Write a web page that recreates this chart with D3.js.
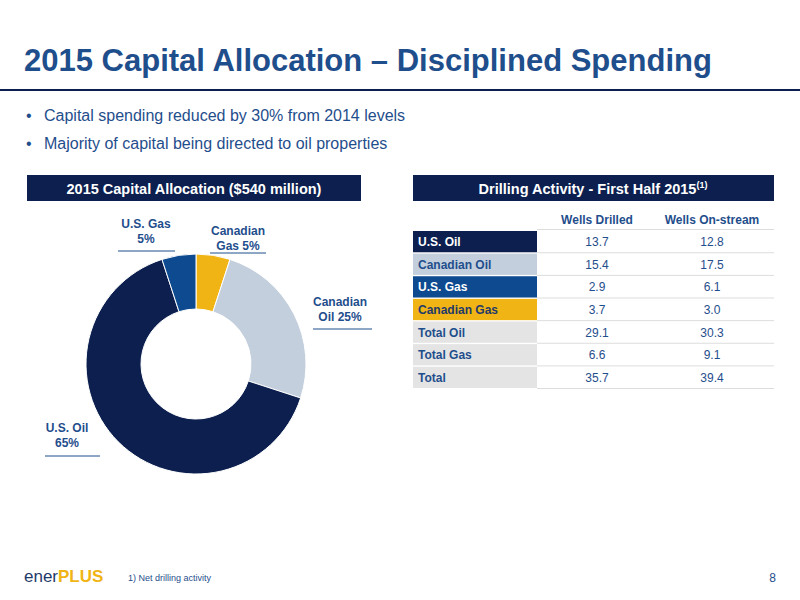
<!DOCTYPE html><html><head><meta charset="utf-8"><script src="https://cdn.jsdelivr.net/npm/d3@7"></script>
<style>body{margin:0;background:#fff}text{font-family:"Liberation Sans",Arial,sans-serif}</style></head><body><svg id="c" width="800" height="600"></svg>
<script>
const slices=["Canadian Gas","Canadian Oil","U.S. Oil","U.S. Gas"];
const shares=[5,25,65,5];
const sliceColors=["#f0b414","#c3cfdc","#0c1f4f","#0d4a8f"];
const rows=["U.S. Oil","Canadian Oil","U.S. Gas","Canadian Gas","Total Oil","Total Gas","Total"];
const drilled=["13.7","15.4","2.9","3.7","29.1","6.6","35.7"];
const onstream=["12.8","17.5","6.1","3.0","30.3","9.1","39.4"];
const rowFill=["#0c1f4f","#c3cfdc","#0d4a8f","#f0b414","#e4e4e4","#e4e4e4","#e4e4e4"];
const rowText=["#fff","#1f4e8c","#fff","#1f3a6a","#1f4e8c","#1f4e8c","#1f4e8c"];
const svg=d3.select("#c");
const blue="#1f4e8c";
svg.append("text").attr("x",24).attr("y",71).attr("font-size",31).attr("font-weight","bold").attr("fill",blue).text("2015 Capital Allocation – Disciplined Spending");
svg.append("line").attr("x1",0).attr("x2",800).attr("y1",90).attr("y2",90).attr("stroke","#0c1f4f").attr("stroke-width",2);
["Capital spending reduced by 30% from 2014 levels","Majority of capital being directed to oil properties"].forEach((t,i)=>{
 svg.append("text").attr("x",26).attr("y",121+i*28).attr("font-size",16).attr("fill",blue).text("•");
 svg.append("text").attr("x",44).attr("y",121+i*28).attr("font-size",16).attr("fill",blue).text(t);});
svg.append("rect").attr("x",27).attr("y",175).attr("width",334).attr("height",26).attr("fill","#0c1f4f");
svg.append("text").attr("x",194).attr("y",194).attr("text-anchor","middle").attr("font-size",14.5).attr("font-weight","bold").attr("fill","#fff").text("2015 Capital Allocation ($540 million)");
svg.append("rect").attr("x",413).attr("y",175).attr("width",361).attr("height",26).attr("fill","#0c1f4f");
const ht=svg.append("text").attr("x",593).attr("y",194).attr("text-anchor","middle").attr("font-size",14.5).attr("font-weight","bold").attr("fill","#fff");
ht.append("tspan").text("Drilling Activity - First Half 2015");ht.append("tspan").attr("font-size",9).attr("dy",-6).text("(1)");
const pie=d3.pie().sort(null)(shares);
const arc=d3.arc().innerRadius(55).outerRadius(110);
svg.append("g").attr("transform","translate(196,364)").selectAll("path").data(pie).join("path").attr("d",arc).attr("fill",(d,i)=>sliceColors[i]).attr("stroke","#fff").attr("stroke-width",1);
const labs=[[238,["Canadian","Gas 5%"],210,266,253],[340,["Canadian","Oil 25%"],313,372,329],[67,["U.S. Oil","65%"],45,100,456],[146,["U.S. Gas","5%"],118,175,251]];
const ly=[235,306,432,228];
labs.forEach((l,i)=>{l[1].forEach((t,j)=>svg.append("text").attr("x",l[0]).attr("y",ly[i]+j*15).attr("text-anchor","middle").attr("font-size",12).attr("font-weight","bold").attr("fill",blue).text(t));
 svg.append("line").attr("x1",l[2]).attr("x2",l[3]).attr("y1",l[4]).attr("y2",l[4]).attr("stroke",blue).attr("stroke-width",1);});
const y=d3.scaleBand().domain(rows).range([231,388]).paddingInner(0.06);
svg.append("text").attr("x",597).attr("y",224).attr("text-anchor","middle").attr("font-size",12).attr("font-weight","bold").attr("fill",blue).text("Wells Drilled");
svg.append("text").attr("x",712).attr("y",224).attr("text-anchor","middle").attr("font-size",12).attr("font-weight","bold").attr("fill",blue).text("Wells On-stream");
svg.append("line").attr("x1",537).attr("x2",774).attr("y1",229.5).attr("y2",229.5).attr("stroke","#ddd");
rows.forEach((r,i)=>{const yy=y(r),h=y.bandwidth();
 svg.append("rect").attr("x",413).attr("y",yy).attr("width",124).attr("height",h).attr("fill",rowFill[i]);
 svg.append("text").attr("x",418).attr("y",yy+h/2+4.5).attr("font-size",12).attr("font-weight","bold").attr("fill",rowText[i]).text(r);
 svg.append("line").attr("x1",537).attr("x2",774).attr("y1",yy+h+0.5).attr("y2",yy+h+0.5).attr("stroke","#ddd");
 svg.append("text").attr("x",597).attr("y",yy+h/2+4.5).attr("text-anchor","middle").attr("font-size",12).attr("fill",blue).text(drilled[i]);
 svg.append("text").attr("x",712).attr("y",yy+h/2+4.5).attr("text-anchor","middle").attr("font-size",12).attr("fill",blue).text(onstream[i]);});
const lg=svg.append("text").attr("x",24).attr("y",582).attr("font-size",17);
lg.append("tspan").attr("fill","#1f3a6a").text("ener");lg.append("tspan").attr("fill","#f0b414").attr("font-weight","bold").text("PLUS");
svg.append("text").attr("x",128).attr("y",581).attr("font-size",9).attr("fill",blue).text("1)  Net drilling activity");
svg.append("text").attr("x",776).attr("y",582).attr("text-anchor","end").attr("font-size",12).attr("fill",blue).text("8");
</script></body></html>
